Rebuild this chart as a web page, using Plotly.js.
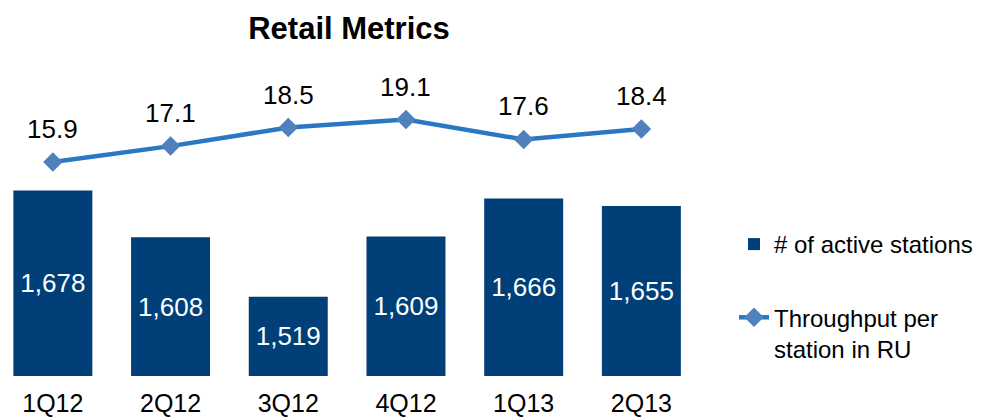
<!DOCTYPE html>
<html>
<head>
<meta charset="utf-8">
<script src="https://cdn.plot.ly/plotly-3.0.1.min.js"></script>
<style>html,body{margin:0;padding:0;background:#fff;}#chart{width:1000px;height:418px;}</style>
</head>
<body>
<div id="chart"></div>
<script>
const categories = ['1Q12', '2Q12', '3Q12', '4Q12', '1Q13', '2Q13'];
const activeStations = [1678, 1608, 1519, 1609, 1666, 1655];
const throughput = [15.9, 17.1, 18.5, 19.1, 17.6, 18.4];
const seriesNames = ['# of active stations', 'Throughput per<br>station in RU'];
const chartTitle = 'Retail Metrics';
const BAR_AXIS_START = 1400;

const FONT = 'Liberation Sans, Arial, sans-serif';
const idx = categories.map((c, i) => i);

const barTrace = {
  type: 'bar',
  name: seriesNames[0],
  legendgroup: 'a',
  x: idx,
  base: BAR_AXIS_START,
  y: activeStations.map(v => v - BAR_AXIS_START),
  marker: {color: '#003f78'},
  text: activeStations.map(v => v.toLocaleString('en-US')),
  textposition: 'inside',
  insidetextanchor: 'middle',
  textfont: {color: '#ffffff', size: 26, family: FONT},
  textangle: 0,
  constraintext: 'none',
  yaxis: 'y',
  hoverinfo: 'skip'
};

const lineTrace = {
  type: 'scatter',
  mode: 'lines+markers',
  name: seriesNames[1],
  legendgroup: 'b',
  x: idx,
  y: throughput,
  yaxis: 'y2',
  line: {color: '#2a78c4', width: 4.5},
  marker: {symbol: 'diamond', size: 15, color: '#4f81bd'},
  cliponaxis: false,
  hoverinfo: 'skip'
};

const annotations = throughput.map((v, i) => ({
  x: i, y: v, xref: 'x', yref: 'y2',
  text: v.toFixed(1), showarrow: false,
  yshift: 33, yanchor: 'middle', xanchor: 'center',
  font: {size: 26, color: '#000000', family: FONT}
}));

const layout = {
  width: 1000, height: 418,
  paper_bgcolor: '#ffffff', plot_bgcolor: '#ffffff',
  margin: {l: 0, r: 300, t: 60, b: 42, pad: 0},
  font: {family: FONT, color: '#000000'},
  title: {
    text: '<b>' + chartTitle + '</b>',
    font: {size: 31, family: FONT, color: '#000000'},
    xref: 'container', yref: 'container',
    x: 0.349, xanchor: 'center', y: 1 - 28/418, yanchor: 'middle'
  },
  bargap: 0.329,
  xaxis: {
    range: [-0.449, 5.498],
    tickmode: 'array', tickvals: idx, ticktext: categories,
    ticks: '', showline: false, showgrid: false, zeroline: false,
    tickfont: {size: 25, family: FONT, color: '#000000'},
    ticklabelstandoff: 10,
    fixedrange: true
  },
  yaxis: {
    range: [BAR_AXIS_START, BAR_AXIS_START + 316/0.667],
    visible: false, showgrid: false, zeroline: false, fixedrange: true
  },
  yaxis2: {
    range: [-0.25, -0.25 + 316/13.25],
    overlaying: 'y', side: 'right',
    visible: false, showgrid: false, zeroline: false, fixedrange: true
  },
  showlegend: true,
  legend: {
    xref: 'container', yref: 'container',
    x: 0.734, xanchor: 'left',
    y: 1 - 222/418, yanchor: 'top',
    traceorder: 'grouped', tracegroupgap: 39,
    valign: 'top',
    font: {size: 24, family: FONT, color: '#000000'},
    bgcolor: 'rgba(0,0,0,0)', borderwidth: 0
  },
  annotations: annotations
};

Plotly.newPlot('chart', [barTrace, lineTrace], layout, {displayModeBar: false, staticPlot: true});
</script>
</body>
</html>
